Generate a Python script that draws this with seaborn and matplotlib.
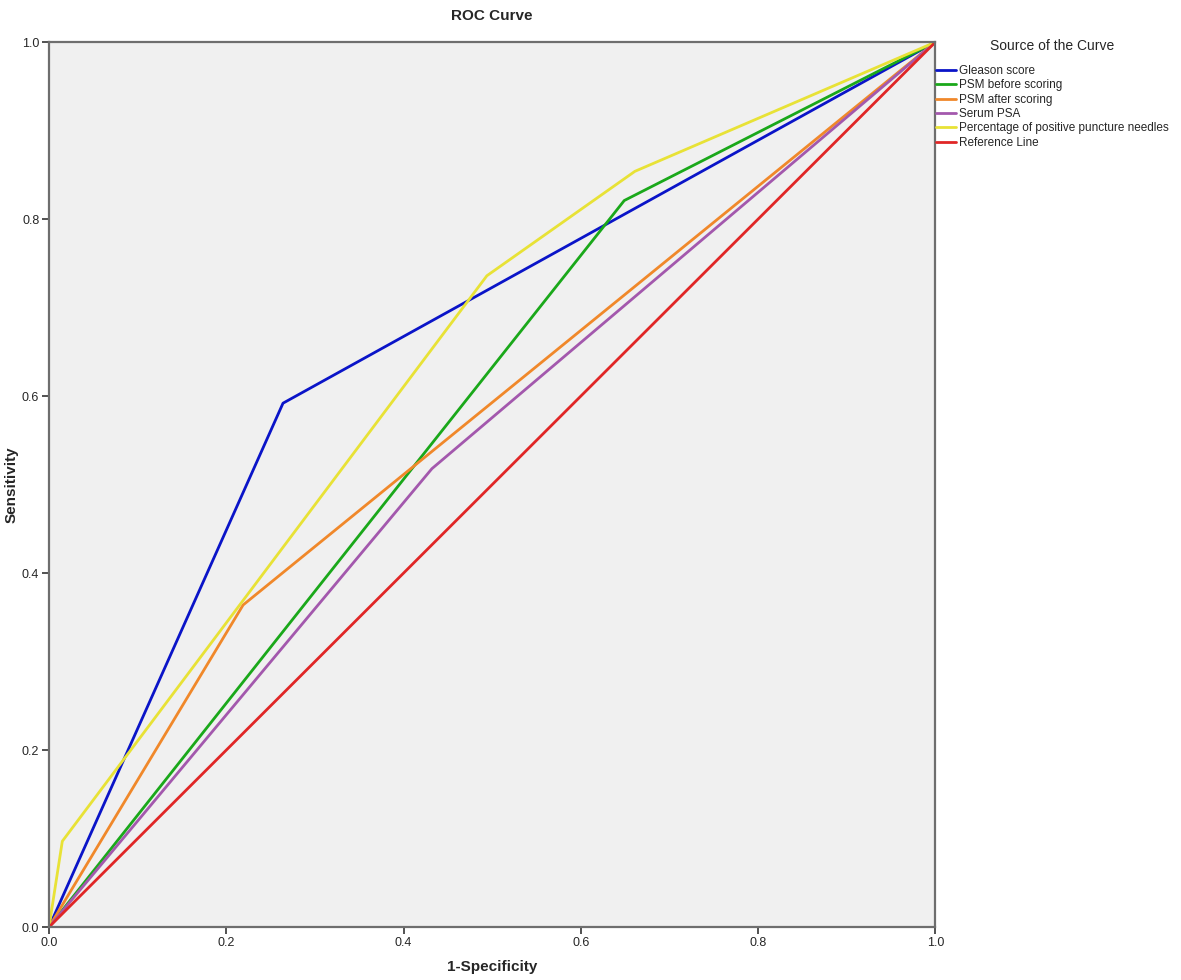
import pandas as pd
import seaborn as sns
import matplotlib.pyplot as plt

# ROC points
gleason_x = [0.0, 0.264, 1.0]
gleason_y = [0.0, 0.592, 1.0]
psm_before_x = [0.0, 0.649, 1.0]
psm_before_y = [0.0, 0.821, 1.0]
psm_after_x = [0.0, 0.219, 1.0]
psm_after_y = [0.0, 0.364, 1.0]
serum_x = [0.0, 0.432, 1.0]
serum_y = [0.0, 0.518, 1.0]
needles_x = [0.0, 0.015, 0.494, 0.661, 1.0]
needles_y = [0.0, 0.097, 0.736, 0.854, 1.0]
ref_x = [0.0, 1.0]
ref_y = [0.0, 1.0]

names = ["Gleason score", "PSM before scoring", "PSM after scoring",
         "Serum PSA", "Percentage of positive puncture needles", "Reference Line"]
colors = ["#0a14c8", "#1aa81a", "#f0882a", "#a358ad", "#e8e236", "#e02626"]
series = [(gleason_x, gleason_y), (psm_before_x, psm_before_y),
          (psm_after_x, psm_after_y), (serum_x, serum_y),
          (needles_x, needles_y), (ref_x, ref_y)]

rows = []
for name, (xs, ys) in zip(names, series):
    for x, y in zip(xs, ys):
        rows.append({"source": name, "x": x, "y": y})
df = pd.DataFrame(rows)

sns.set_style("white")
plt.rcParams["font.family"] = ["Liberation Sans", "DejaVu Sans"]

fig = plt.figure(figsize=(11.81, 9.8), dpi=100)
ax = fig.add_axes([0.0415, 0.054, 0.7505, 0.903])
ax.set_facecolor("#f0f0f0")

sns.lineplot(data=df, x="x", y="y", hue="source", hue_order=names,
             palette=dict(zip(names, colors)), sort=False, estimator=None,
             linewidth=2, ax=ax)

ax.set_xlim(0, 1)
ax.set_ylim(0, 1)
ticks = [0, 0.2, 0.4, 0.6, 0.8, 1.0]
tick_labels = ["0.0", "0.2", "0.4", "0.6", "0.8", "1.0"]
ax.set_xticks(ticks)
ax.set_yticks(ticks)
ax.set_xticklabels(tick_labels, fontsize=9)
ax.set_yticklabels(tick_labels, fontsize=9)
ax.tick_params(axis="both", bottom=True, left=True, length=5, width=1.2,
               color="#333333", pad=2)
for sp in ax.spines.values():
    sp.set_color("#6e6e6e")
    sp.set_linewidth(1.6)

ax.set_xlabel("1-Specificity", fontsize=11, fontweight="bold", labelpad=8)
ax.set_ylabel("Sensitivity", fontsize=11, fontweight="bold")
ax.yaxis.set_label_coords(-0.034, 0.5)
ax.set_title("ROC Curve", fontsize=11, fontweight="bold", pad=16)

sns.move_legend(ax, "upper left", bbox_to_anchor=(1.001, 1.0034), frameon=False,
                title="Source of the Curve", fontsize=8.5, title_fontsize=10,
                handlelength=1.7, handletextpad=0.2, labelspacing=0.2,
                borderaxespad=0.0, borderpad=0.0)
ax.get_legend()._legend_box.sep = 8.5

fig.savefig("out.png", dpi=100)
